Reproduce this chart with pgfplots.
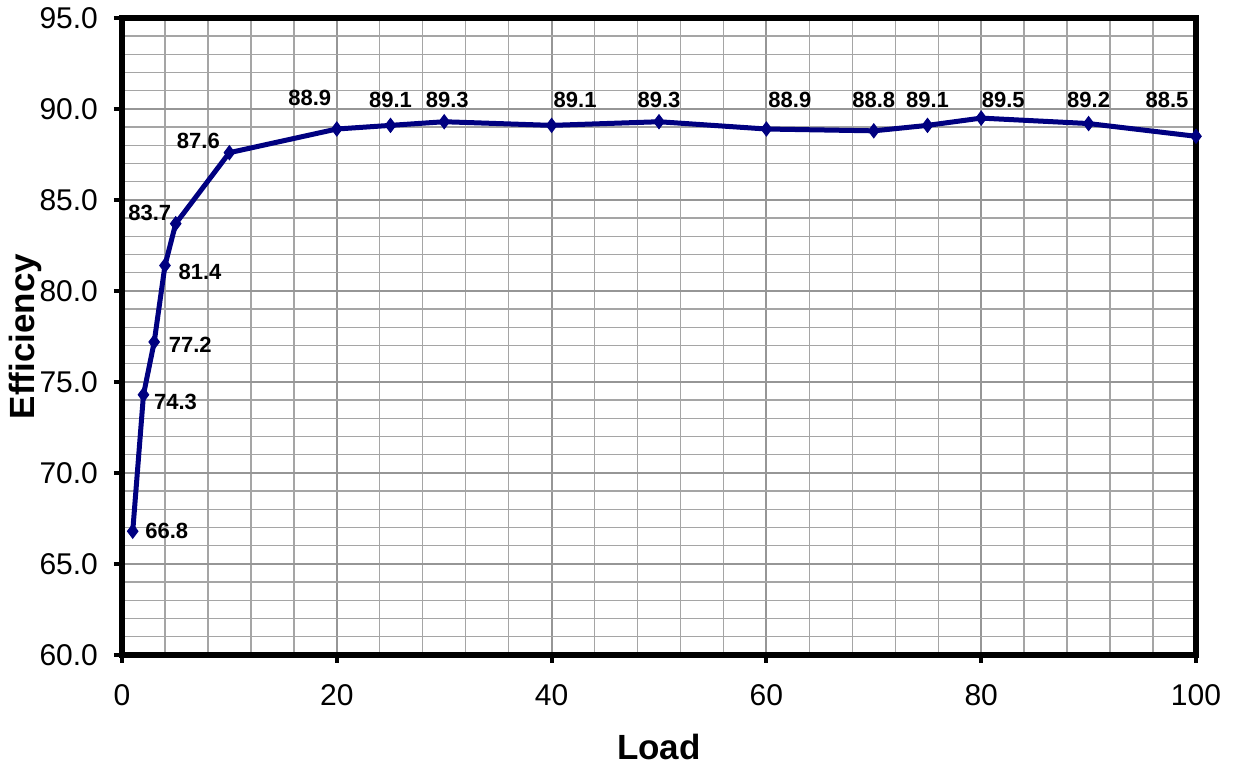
\documentclass[border=0pt]{standalone}
\usepackage{pgfplots}
\pgfplotsset{compat=1.18}
\usepackage{fontspec}
\setmainfont{Liberation Sans}
\definecolor{navyline}{RGB}{0,0,128}
\definecolor{majgrid}{RGB}{150,150,150}
\definecolor{mingrid}{RGB}{165,165,165}
\begin{document}
\begin{tikzpicture}
\path[use as bounding box] (-61pt,-55pt) rectangle (555.5pt,327.5pt);
\begin{axis}[
  scale only axis,
  width=537pt, height=318.5pt,
  xmin=0, xmax=100, ymin=60, ymax=95,
  xtick={0,20,...,100},
  ytick={60,65,...,95},
  minor x tick num=4,
  minor y tick num=4,
  grid=both,
  major grid style={majgrid, line width=1pt},
  minor grid style={mingrid, line width=0.7pt},
  minor tick length=0pt,
  major tick length=4pt,
  tick align=outside,
  tick pos=left,
  tick style={black, line width=2pt},
  axis line style={black, line width=3pt},
  /pgf/number format/assume math mode=true,
  yticklabel={\pgfmathprintnumber[fixed,fixed zerofill,precision=1]{\tick}},
  tick label style={font=\fontsize{15}{17}\selectfont},
  yticklabel style={xshift=-4.5pt},
  xticklabel style={yshift=-7pt},
  xlabel={Load}, ylabel={Efficiency},
  xlabel style={at={(axis description cs:0.5,-0.1444)}, anchor=center, font=\bfseries\fontsize{17.5}{20}\selectfont},
  ylabel style={at={(axis description cs:-0.0903,0.5)}, anchor=center, rotate=0, font=\bfseries\fontsize{17.5}{20}\selectfont},
]
\addplot[color=navyline, line width=2.5pt, mark=diamond*, mark size=3.5pt,
  mark options={solid, fill=navyline, line width=0.5pt},
  point meta=explicit,
  nodes near coords={\pgfmathprintnumber[fixed,fixed zerofill,precision=1]{\pgfplotspointmeta}},
  visualization depends on={\thisrow{dx}\as\dx},
  visualization depends on={\thisrow{dy}\as\dy},
  every node near coord/.append style={anchor=center, xshift=\dx pt, yshift=\dy pt, text=black, font=\bfseries\fontsize{11}{13}\selectfont},
] table[x=x, y=y, meta=y] {
x y dx dy
1 66.8 17 0
2 74.3 16 -3.5
3 77.2 18 -1.5
4 81.4 17.5 -3
5 83.7 -13 5.5
10 87.6 -15.5 6
20 88.9 -13.5 15.5
25 89.1 0 12.5
30 89.3 1.5 11
40 89.1 11.75 12.5
50 89.3 0 11
60 88.9 11.75 14.5
70 88.8 0 15.5
75 89.1 0 12.5
80 89.5 11 9
90 89.2 0 12
100 88.5 -14.5 18
};
\end{axis}
\end{tikzpicture}
\end{document}
